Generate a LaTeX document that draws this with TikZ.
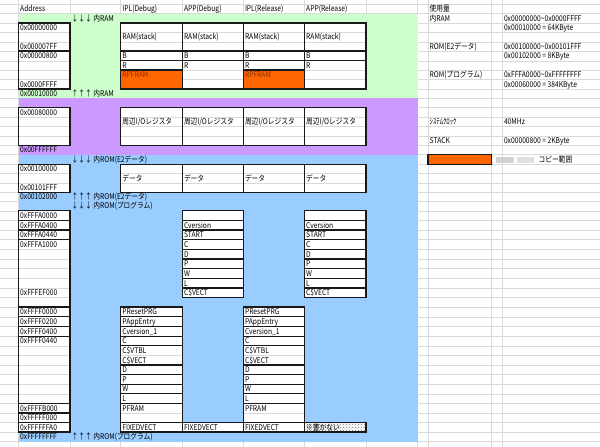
\documentclass[tikz,border=0pt]{standalone}
\usepackage{fontspec}
\setmainfont{Noto Sans CJK JP}[FakeStretch=0.85]
\usetikzlibrary{patterns}

\definecolor{ramgreen}{HTML}{CCFFCC}
\definecolor{iopurple}{HTML}{CC99FF}
\definecolor{romblue}{HTML}{99CCFF}
\definecolor{copyorange}{HTML}{FF6600}
\definecolor{copytext}{HTML}{8A2B00}

\tikzset{
  grid line/.style={draw=black!15, line width=0.5pt},
  boxline/.style={draw=black!90, line width=1.3pt},
  txt/.style={anchor=base west, inner sep=0pt, xshift=1.5pt, yshift=2pt,
    font=\fontsize{7.9}{8}\selectfont},
}

% one text in a cell: name, column line, bottom line of the row, text
\newcommand{\sheetcell}[4]{\node[txt] (#1) at (#2 |- #3) {#4};}
% passes over the framed cells
\newcommand{\boxfill}[4]{\fill[white] (c#1 |- l#3) rectangle (c#2 |- l#4);}
\newcommand{\boxgrid}[4]{%
  \pgfmathtruncatemacro\kfirst{#3+1}\pgfmathtruncatemacro\klast{#4-1}%
  \ifnum\kfirst>\klast\else
    \foreach \k in {\kfirst,...,\klast} {\draw[grid line] (c#1 |- l\k) -- (c#2 |- l\k);}
  \fi}
\newcommand{\boxedge}[4]{\draw[boxline] (c#1 |- l#3) rectangle (c#2 |- l#4);}
\newcommand{\sheetboxes}[1]{%
  \foreach \t/\u in {2/5,5/9,11/15,17/20,22/23,23/24,24/25,25/32,32/33,33/34,34/35,35/42,42/43,43/44,44/45}
    {#1{0}{1}{\t}{\u}}
  \foreach \c/\d in {2/3,3/4,4/5,5/6} \foreach \t/\u in {2/5,5/6,11/15,17/20}
    {#1{\c}{\d}{\t}{\u}}
  \foreach \c/\d in {2/3,4/5} \foreach \t/\u in {6/7,7/9,32/33,33/34,34/35,35/36,36/38,38/39,39/40,40/41,41/42,42/44,44/45}
    {#1{\c}{\d}{\t}{\u}}
  \foreach \c/\d in {3/4,5/6} \foreach \t/\u in {6/9,22/23,23/24,24/25,25/26,26/27,27/28,28/29,29/30,30/31,44/45}
    {#1{\c}{\d}{\t}{\u}}
}

\begin{document}
\begin{tikzpicture}[x=1pt,y=-1pt]
  \useasboundingbox (0,0) rectangle (600,447);
  \fill[white] (0,0) rectangle (600,447);
  % columns and rows of the sheet
  \foreach \x [count=\i from 0] in {18.5,70,120.7,182.3,243.3,304.5,366,417.5,428,491.3,502.3,600}
    \coordinate (c\i) at (\x,0);
  \foreach \y [count=\k from 0] in {4.5,13.7,23,32.4,41.8,51,60.8,70,79.5,89,98.2,107.4,117,126.3,
      135.8,145.2,154.5,164.2,173.6,183,192.3,201.5,210.8,220.4,230,239.7,249.3,259,268.7,278.3,
      288,297.5,307.1,316.8,326.5,336.2,345.8,355.4,365,374.6,384.2,393.8,403.3,413,422.5,432,441.7,447}
    \coordinate (l\k) at (0,\y);

  % sheet grid
  \foreach \k in {0,...,46}
    \draw[grid line] (l\k) -- (c11 |- l\k);
  \foreach \i in {0,...,10}
    \draw[grid line] (c\i) -- (c\i |- l47);

  % memory areas
  \fill[ramgreen] (c0 |- l1) rectangle (c7 |- l10);
  \fill[iopurple] (c0 |- l10) rectangle (c7 |- l16);
  \fill[romblue] (c0 |- l16) rectangle (c7 |- l46);

  % framed cells
  \sheetboxes\boxfill
  \sheetboxes\boxgrid
  \fill[copyorange] (c2 |- l7) rectangle (c3 |- l9);
  \fill[copyorange] (c4 |- l7) rectangle (c5 |- l9);
  \fill[white] (c5 |- l44) rectangle (c6 |- l45);
  \fill[pattern=crosshatch dots, pattern color=black!55] (c5 |- l44) rectangle (c6 |- l45);
  \sheetboxes\boxedge

  % legend
  \fill[copyorange] (c8 |- l16) rectangle (c9 |- l17);
  \draw[boxline] (c8 |- l16) rectangle (c9 |- l17);
  \fill[black!18] (496,157) rectangle (514,163);
  \fill[black!12] (517,157) rectangle (534,163);
  \node[txt] (copyLbl) at (537,164.2) {コピー範囲};

  % header
  \sheetcell{hAddr}{c0}{l1}{Address}
  \sheetcell{hIplD}{c2}{l1}{IPL(Debug)}
  \sheetcell{hAppD}{c3}{l1}{APP(Debug)}
  \sheetcell{hIplR}{c4}{l1}{IPL(Release)}
  \sheetcell{hAppR}{c5}{l1}{APP(Release)}

  % addresses
  \foreach \v/\k in {0x00000000/3,0x000007FF/5,0x00000800/6,0x0000FFFF/9,0x00010000/10,
      0x00080000/12,0x00FFFFFF/16,0x00100000/18,0x00101FFF/20,0x00102000/21,
      0xFFFA0000/23,0xFFFA0400/24,0xFFFA0440/25,0xFFFA1000/26,0xFFFEF000/31,
      0xFFFF0000/33,0xFFFF0200/34,0xFFFF0400/35,0xFFFF0440/36,
      0xFFFFB000/43,0xFFFFF000/44,0xFFFFFFA0/45,0xFFFFFFFF/46}
    {\sheetcell{adr\k}{c0}{l\k}{\v}}

  % area marks
  \sheetcell{ramIn}{c1}{l2}{↓↓↓ 内RAM}
  \sheetcell{ramOut}{c1}{l10}{↑↑↑ 内RAM}
  \sheetcell{e2In}{c1}{l17}{↓↓↓ 内ROM(E2データ)}
  \sheetcell{e2Out}{c1}{l21}{↑↑↑ 内ROM(E2データ)}
  \sheetcell{prgIn}{c1}{l22}{↓↓↓ 内ROM(プログラム)}
  \sheetcell{prgOut}{c1}{l46}{↑↑↑ 内ROM(プログラム)}

  % RAM, I/O and E2 data
  \foreach \c in {2,3,4,5} {
    \sheetcell{stk\c}{c\c}{l4}{RAM(stack)}
    \sheetcell{b\c}{c\c}{l6}{B}
    \sheetcell{r\c}{c\c}{l7}{R}
    \sheetcell{io\c}{c\c}{l13}{周辺I/Oレジスタ}
    \sheetcell{dat\c}{c\c}{l19}{データ}
  }
  \node[txt, text=copytext] (rpfD) at (c2 |- l8) {RPFRAM};
  \node[txt, text=copytext] (rpfR) at (c4 |- l8) {RPFRAM};

  % program ROM, APP
  \foreach \v [count=\k from 24] in {Cversion,START,C,D,P,W,L,C\$VECT} {
    \sheetcell{appD\k}{c3}{l\k}{\v}
    \sheetcell{appR\k}{c5}{l\k}{\v}
  }
  % program ROM, IPL
  \foreach \v/\k in {PResetPRG/33,PAppEntry/34,Cversion\_1/35,C/36,C\$VTBL/37,C\$VECT/38,
      D/39,P/40,W/41,L/42,PFRAM/43,FIXEDVECT/45} {
    \sheetcell{iplD\k}{c2}{l\k}{\v}
    \sheetcell{iplR\k}{c4}{l\k}{\v}
  }
  \sheetcell{fixD}{c3}{l45}{FIXEDVECT}
  \sheetcell{noWrite}{c5}{l45}{※書かない}

  % usage table
  \sheetcell{uHead}{c8}{l1}{使用量}
  \sheetcell{uRam}{c8}{l2}{内RAM}
  \sheetcell{uRamRng}{c10}{l2}{0x00000000\textasciitilde 0x0000FFFF}
  \sheetcell{uRamSz}{c10}{l3}{0x00010000 = 64KByte}
  \sheetcell{uE2}{c8}{l5}{ROM(E2データ)}
  \sheetcell{uE2Rng}{c10}{l5}{0x00100000\textasciitilde 0x00101FFF}
  \sheetcell{uE2Sz}{c10}{l6}{0x00102000 = 8KByte}
  \sheetcell{uPrg}{c8}{l8}{ROM(プログラム)}
  \sheetcell{uPrgRng}{c10}{l8}{0xFFFA0000\textasciitilde 0xFFFFFFFF}
  \sheetcell{uPrgSz}{c10}{l9}{0x00060000 = 384KByte}
  \sheetcell{uClk}{c8}{l13}{ｼｽﾃﾑｸﾛｯｸ}
  \sheetcell{uClkV}{c10}{l13}{40MHz}
  \sheetcell{uStk}{c8}{l15}{STACK}
  \sheetcell{uStkV}{c10}{l15}{0x00000800 = 2KByte}
\end{tikzpicture}
\end{document}
